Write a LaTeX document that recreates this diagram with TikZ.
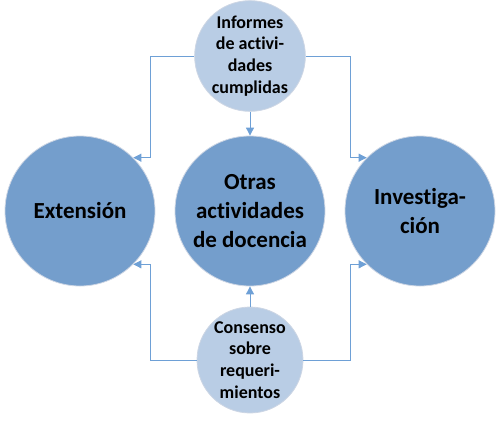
\documentclass[tikz,border=0pt]{standalone}
\usepackage{fontspec}
\setmainfont[RawFeature={-liga;-dlig;-clig;-calt}]{Carlito}
\usetikzlibrary{arrows.meta}
\definecolor{bigfill}{RGB}{116,158,204}
\definecolor{smallfill}{RGB}{185,205,229}
\definecolor{rim}{RGB}{205,214,228}
\definecolor{linkcol}{RGB}{110,160,214}
\tikzset{
  bigcirc/.style={circle, fill=bigfill, draw=rim, line width=0.8pt, minimum size=150pt, inner sep=0pt, align=center, font=\fontsize{23}{29}\selectfont\bfseries},
  smallcirc/.style={circle, fill=smallfill, draw=rim, line width=0.8pt, minimum size=106pt, inner sep=0pt, align=center, font=\fontsize{18}{21.7}\selectfont\bfseries},
  conn/.style={draw=linkcol, line width=0.9pt, -{Triangle[length=8pt,width=8pt]}}
}
\begin{document}
\begin{tikzpicture}[x=1pt,y=-1pt]
\useasboundingbox (0,0) rectangle (500,421);
\node[bigcirc] (ext) at (80,211) {Extensión};
\node[bigcirc] (mid) at (250,211) {Otras\\actividades\\de docencia};
\node[bigcirc] (inv) at (420,211) {Investiga-\\ción};
\coordinate (tl) at (150,56);
\coordinate (tr) at (350,56);
\coordinate (bl) at (150,360);
\coordinate (br) at (350,360);
\node[smallcirc] (top) at (250,56) {Informes\\de activi-\\dades\\cumplidas};
\node[smallcirc] (bot) at (250,360) {Consenso\\sobre\\requeri-\\mientos};
\draw[conn] (top.west) -- (tl) |- (ext.45);
\draw[conn] (top.east) -- (tr) |- (inv.135);
\draw[conn] (bot.west) -- (bl) |- (ext.-45);
\draw[conn] (bot.east) -- (br) |- (inv.-135);
\draw[conn] (top.south) -- (mid.north);
\draw[conn] (bot.north) -- (mid.south);
\end{tikzpicture}
\end{document}
